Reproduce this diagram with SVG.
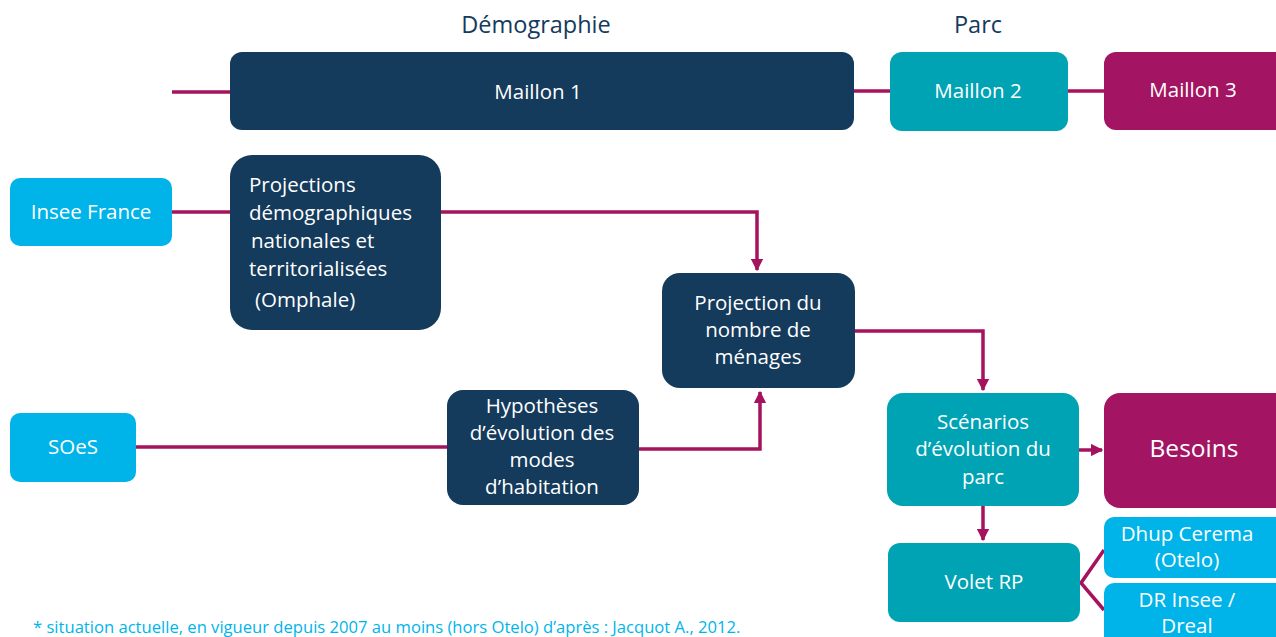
<svg xmlns="http://www.w3.org/2000/svg" width="1276" height="637" viewBox="0 0 1276 637">
<style>
text{font-family:"Open Sans",Roboto,"Liberation Sans",sans-serif;}
.w{fill:#ffffff;font-size:20.5px;text-anchor:middle;}
.wl{fill:#ffffff;font-size:20.5px;}
.h{fill:#143a5c;font-size:23.5px;text-anchor:middle;}
.navy{fill:#143a5c;}
.teal{fill:#00a3b4;}
.mag{fill:#a31462;}
.lb{fill:#00b4ea;}
.c{stroke:#a5135f;stroke-width:3.5;fill:none;}
</style>
<defs>
<marker id="ah" viewBox="0 0 10 10" refX="9" refY="5" markerWidth="3.6" markerHeight="3.6" orient="auto" markerUnits="strokeWidth">
<path d="M0,0 L10,5 L0,10 z" fill="#a5135f"/>
</marker>
</defs>
<text class="h" x="536" y="33">Démographie</text>
<text class="h" x="978" y="33">Parc</text>
<g id="connectors">
<path class="c" d="M172,92 H230"/>
<path class="c" d="M854,91 H890"/>
<path class="c" d="M1068,91 H1104"/>
<path class="c" d="M172,212 H230"/>
<path class="c" d="M441,212 H757 V270" marker-end="url(#ah)"/>
<path class="c" d="M855,331 H983 V390" marker-end="url(#ah)"/>
<path class="c" d="M136,447 H447"/>
<path class="c" d="M639,449 H760 V392" marker-end="url(#ah)"/>
<path class="c" d="M1079,450 H1102" marker-end="url(#ah)"/>
<path class="c" d="M983,506 V540" marker-end="url(#ah)"/>
<path class="c" d="M1104,550 L1081,583 L1104,610"/>
</g>
<g id="maillon1"><rect class="navy" x="230" y="52" width="624" height="78" rx="12"/><text class="w" x="538" y="99">Maillon 1</text></g>
<g id="maillon2"><rect class="teal" x="890" y="52" width="178" height="79" rx="12"/><text class="w" x="978" y="98">Maillon 2</text></g>
<g id="maillon3"><rect class="mag" x="1104" y="52" width="190" height="78" rx="12"/><text class="w" x="1193" y="97">Maillon 3</text></g>
<g id="insee"><rect class="lb" x="10" y="178" width="162" height="68" rx="10"/><text class="w" x="91" y="219">Insee France</text></g>
<g id="projections"><rect class="navy" x="230" y="155" width="211" height="175" rx="22"/>
<text class="wl" x="249" y="192">Projections</text>
<text class="wl" x="249" y="220">démographiques</text>
<text class="wl" x="251" y="248">nationales et</text>
<text class="wl" x="249" y="276">territorialisées</text>
<text class="wl" x="255" y="307">(Omphale)</text></g>
<g id="menages"><rect class="navy" x="662" y="273" width="193" height="115" rx="18"/>
<text class="w" x="758" y="310">Projection du</text>
<text class="w" x="758" y="337">nombre de</text>
<text class="w" x="758" y="364">ménages</text></g>
<g id="soes"><rect class="lb" x="10" y="413" width="126" height="69" rx="10"/><text class="w" x="73" y="454">SOeS</text></g>
<g id="hypotheses"><rect class="navy" x="447" y="390" width="192" height="115" rx="16"/>
<text class="w" x="542" y="413">Hypothèses</text>
<text class="w" x="542" y="440">d’évolution des</text>
<text class="w" x="542" y="467">modes</text>
<text class="w" x="542" y="494">d’habitation</text></g>
<g id="scenarios"><rect class="teal" x="887" y="393" width="192" height="113" rx="16"/>
<text class="w" x="983" y="429">Scénarios</text>
<text class="w" x="983" y="456">d’évolution du</text>
<text class="w" x="983" y="484">parc</text></g>
<g id="besoins"><rect class="mag" x="1104" y="393" width="190" height="115" rx="16"/><text class="w" x="1194" y="457" style="font-size:24.5px">Besoins</text></g>
<g id="voletrp"><rect class="teal" x="888" y="543" width="192" height="79" rx="12"/><text class="w" x="984" y="589">Volet RP</text></g>
<g id="dhup"><rect class="lb" x="1104" y="517" width="190" height="61" rx="10"/>
<text class="w" x="1187" y="541">Dhup Cerema</text>
<text class="w" x="1187" y="567">(Otelo)</text></g>
<g id="drinsee"><rect class="lb" x="1104" y="583" width="190" height="70" rx="10"/>
<text class="w" x="1187" y="607">DR Insee /</text>
<text class="w" x="1187" y="633">Dreal</text></g>
<text x="33" y="633" style="fill:#00b4ea;font-size:16.6px">* situation actuelle, en vigueur depuis 2007 au moins (hors Otelo) d’après : Jacquot A., 2012.</text>
</svg>
